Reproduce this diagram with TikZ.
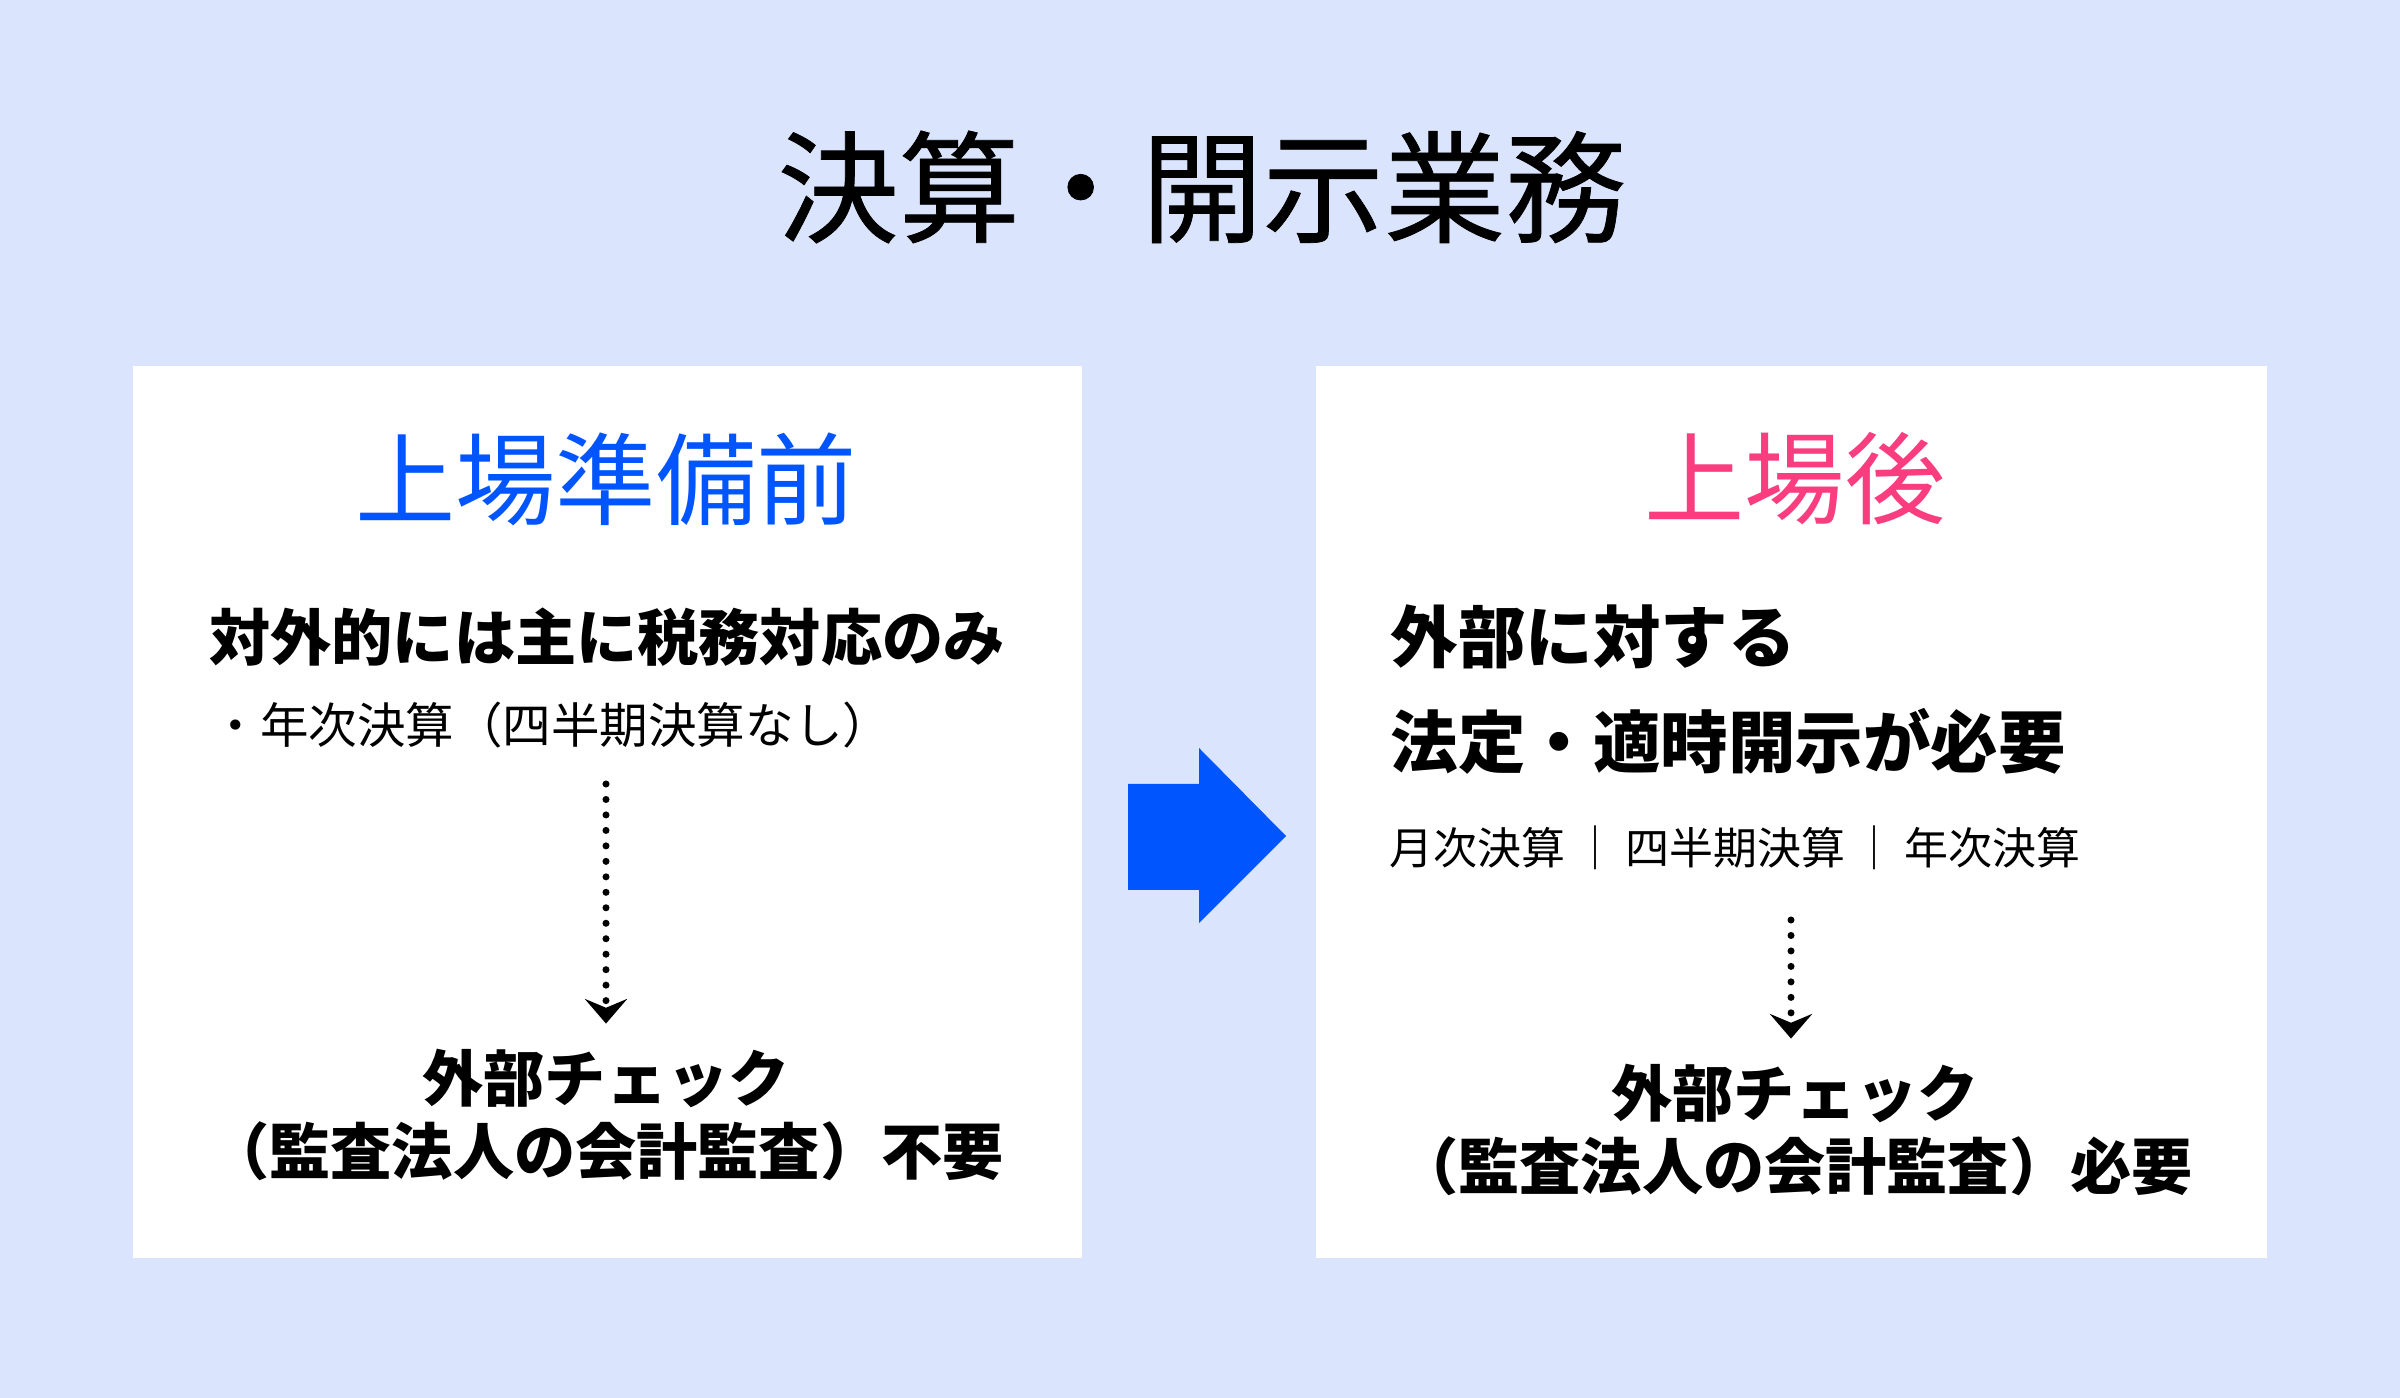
\documentclass[tikz,border=0pt]{standalone}
\usepackage{fontspec}
\setmainfont{Noto Sans CJK JP}
\newfontfamily\ttlfont[FakeBold=0.6]{Noto Sans CJK JP}
\usepackage{xcolor}
\usetikzlibrary{arrows.meta,positioning}
\definecolor{bgblue}{HTML}{DAE5FD}
\definecolor{prepblue}{HTML}{0055FF}
\definecolor{postpink}{HTML}{F93D7F}

\begin{document}
\begin{tikzpicture}[x=0.01cm, y=-0.01cm,
  title/.style={inner sep=0pt, font=\fontsize{34.5}{40}\selectfont\ttlfont},
  heading/.style={inner sep=0pt, font=\fontsize{28.5}{34}\selectfont},
  boldtxt/.style={inner sep=0pt, font=\fontsize{17.4}{20.9}\selectfont\bfseries},
  bigbold/.style={inner sep=0pt, font=\fontsize{19.2}{23}\selectfont\bfseries},
  plaintxt/.style={inner sep=0pt, font=\fontsize{13.8}{16}\selectfont},
  smalltxt/.style={inner sep=0pt, font=\fontsize{12.5}{15}\selectfont},
  dotarrow/.style={line width=2pt, line cap=round, dash pattern=on 0pt off 4.4pt,
    -{Stealth[length=7pt, width=12pt, inset=2.5pt]}, shorten >=7pt}]
  \useasboundingbox (0,0) rectangle (2400,1398);
  \fill[bgblue] (0,0) rectangle (2400,1398);

  % panels
  \fill[white] (133,366) rectangle (1082,1258);
  \fill[white] (1316,366) rectangle (2267,1258);

  \node[title] (ttl) at (1202,187) {決算・開示業務};

  % before listing
  \node[heading, text=prepblue] (pre) at (606,479) {上場準備前};
  \node[boldtxt] (preTax) at (607,637) {対外的には主に税務対応のみ};
  \node[plaintxt, anchor=west] (preAnn) at (211,725) {・年次決算（四半期決算なし）};
  \coordinate (preTop) at (606,784);
  \node[boldtxt, align=center] (preChk) at (606,1115)
    {外部チェック\\（監査法人の会計監査）不要};
  \draw[dotarrow] (preTop) -- (preTop |- preChk.north);

  % after listing
  \node[heading, text=postpink] (post) at (1795,479) {上場後};
  \node[bigbold, anchor=west] (postExt) at (1390,637) {外部に対する};
  \node[bigbold, anchor=west] (postLaw) at (1390,741) {法定・適時開示が必要};
  \node[smalltxt, anchor=west] (postCyc) at (1389,848)
    {月次決算\hspace{0.18em}｜\hspace{0.18em}四半期決算\hspace{0.18em}｜\hspace{0.18em}年次決算};
  \coordinate (postTop) at (1791,920);
  \node[boldtxt, align=center] (postChk) at (1795,1130)
    {外部チェック\\（監査法人の会計監査）必要};
  \draw[dotarrow] (postTop) -- (postTop |- postChk.north);

  % big arrow between panels
  \fill[prepblue] (1128,784) -- (1199,784) -- (1199,748) -- (1286,836)
    -- (1199,923) -- (1199,890) -- (1128,890) -- cycle;
\end{tikzpicture}
\end{document}
